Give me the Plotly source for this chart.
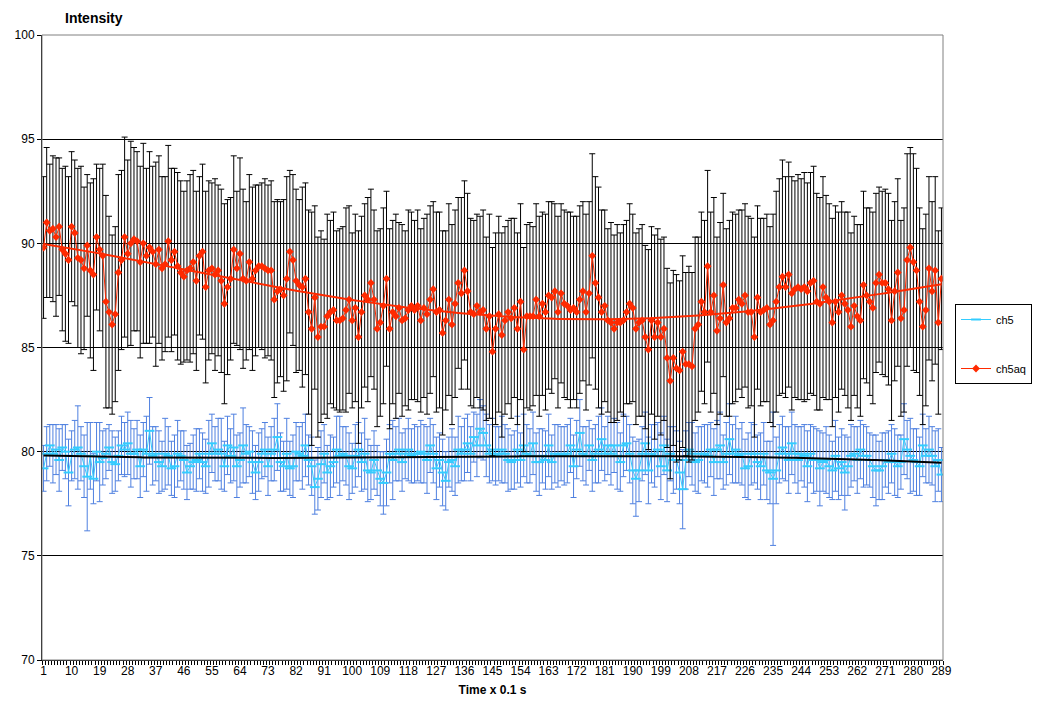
import numpy as np
import plotly.graph_objects as go

# ---------------- data ----------------
time_idx = list(range(1, 290))
tick_labels = [str(v) for v in range(1, 290, 9)]

ch5aq_seg = [
    [89.8, 91.0, 90.6, 90.7, 90.3, 90.8, 89.7, 89.5, 89.2, 90.8, 90.5, 89.3, 89.2, 88.8, 89.9, 88.7, 88.5, 90.3, 89.7, 89.4, 87.2, 86.7, 86.1, 86.6],
    [88.6, 89.2, 90.3, 89.5, 90.0, 90.2, 90.1, 89.1, 90.0, 89.4, 89.8, 89.6, 89.0, 89.7, 88.8, 89.0, 90.1, 89.2, 89.6, 88.9, 88.6, 88.4, 88.7, 88.8],
    [89.1, 88.2, 89.4, 89.6, 87.9, 88.7, 88.8, 88.5, 88.7, 88.2, 87.1, 87.9, 88.3, 89.7, 88.8, 89.5, 88.3, 88.2, 89.1, 88.3, 88.7, 88.9, 88.9, 88.8],
    [88.7, 88.7, 87.3, 87.7, 87.8, 87.5, 88.3, 89.6, 89.2, 88.2, 88.0, 87.9, 88.3, 86.7, 85.9, 87.4, 85.5, 86.0, 86.0, 86.5, 86.7, 86.8, 86.3, 86.3],
    [86.4, 86.8, 87.3, 86.3, 86.9, 85.5, 86.7, 87.5, 87.3, 88.1, 87.3, 85.9, 86.2, 87.0, 88.3, 85.9, 86.7, 86.5, 86.9, 86.3, 86.4, 86.8, 87.0, 86.8],
    [87.0, 86.3, 86.9, 86.6, 87.3, 87.8, 86.7, 86.8, 85.7, 86.3, 87.3, 86.1, 87.1, 88.1, 87.6, 88.7, 87.7, 86.7, 86.6, 87.0, 86.7, 86.8, 85.9, 86.5],
    [84.8, 85.9, 86.6, 85.6, 86.3, 86.7, 86.4, 86.9, 85.9, 87.2, 84.9, 86.5, 86.5, 86.5, 87.3, 86.5, 87.1, 86.7, 87.5, 87.4, 87.7, 86.7, 87.6, 87.1],
    [87.0, 86.8, 86.9, 86.7, 87.3, 87.7, 86.7, 87.6, 89.4, 88.1, 87.4, 86.7, 87.0, 86.3, 86.2, 85.9, 86.2, 86.2, 86.3, 86.7, 87.1, 86.9, 85.9, 86.2],
    [86.3, 85.5, 84.9, 86.3, 85.5, 86.2, 85.5, 85.9, 84.5, 83.4, 84.5, 84.0, 83.9, 84.8, 84.2, 84.2, 84.1, 85.9, 86.1, 87.2, 86.7, 88.9, 86.7, 87.5],
    [85.8, 86.4, 88.0, 86.2, 86.4, 86.9, 86.9, 87.3, 87.1, 87.5, 86.7, 86.7, 85.5, 87.4, 86.7, 86.8, 86.9, 86.1, 86.3, 87.2, 87.9, 88.4, 87.9, 88.5],
    [87.6, 87.8, 87.9, 87.8, 87.9, 87.7, 88.1, 88.2, 87.2, 87.1, 87.9, 87.4, 87.2, 86.2, 87.2, 86.7, 87.5, 87.1, 86.8, 86.0, 87.0, 86.5, 86.3, 88.0],
    [87.5, 87.2, 86.9, 88.1, 88.5, 88.1, 88.1, 87.8, 86.3, 87.7, 88.6, 86.4, 86.8, 89.2, 89.8, 89.1, 88.7, 87.2, 86.0, 86.8, 88.8, 87.7, 88.7, 86.2, 88.3],
]
ch5aq_err_seg = [
    [3.4, 3.6, 3.2, 3.5, 3.8, 3.3, 3.9, 4.2, 4.0, 3.6, 3.5, 4.3, 4.5, 3.9, 3.4, 4.2, 4.6, 3.5, 3.9, 4.4, 5.1, 4.6, 4.3, 4.2],
    [4.7, 4.3, 4.8, 4.5, 4.9, 4.4, 4.3, 4.6, 4.8, 4.2, 4.6, 4.1, 4.9, 4.5, 4.4, 4.2, 4.6, 4.4, 4.0, 4.5, 4.4, 4.1, 4.3, 4.5],
    [4.4, 4.3, 3.8, 4.2, 4.6, 4.3, 4.1, 4.6, 4.1, 4.4, 4.8, 4.2, 3.9, 4.5, 3.7, 4.6, 4.3, 3.8, 4.2, 4.4, 4.1, 3.9, 4.0, 4.3],
    [4.1, 4.3, 4.7, 4.4, 4.2, 4.6, 4.9, 3.9, 4.1, 4.4, 4.1, 4.8, 4.6, 4.9, 5.6, 4.4, 4.8, 4.6, 4.2, 4.9, 4.4, 4.7, 4.3, 4.4],
    [4.4, 4.9, 4.5, 4.2, 4.5, 5.1, 4.6, 4.4, 4.9, 4.5, 4.3, 4.7, 4.5, 4.7, 4.2, 4.8, 4.4, 4.9, 4.1, 4.6, 4.2, 4.8, 4.5, 4.3],
    [4.6, 4.4, 4.3, 4.8, 4.5, 4.2, 4.8, 4.7, 4.9, 4.3, 4.6, 4.8, 4.5, 4.1, 4.6, 4.3, 4.7, 4.5, 4.5, 4.4, 4.6, 4.8, 4.4, 4.9],
    [5.0, 4.6, 4.7, 4.9, 4.5, 4.4, 4.8, 4.3, 4.6, 4.7, 4.9, 4.4, 4.5, 4.3, 4.6, 4.8, 4.4, 4.7, 4.5, 4.6, 4.2, 4.6, 4.3, 4.5],
    [4.5, 4.7, 4.4, 4.6, 4.5, 4.3, 4.7, 4.4, 4.9, 5.1, 5.3, 4.9, 4.6, 4.4, 4.8, 4.5, 4.7, 4.3, 4.6, 4.4, 4.8, 4.5, 4.6, 4.5],
    [4.6, 4.4, 4.8, 4.5, 4.9, 4.5, 4.7, 4.4, 4.3, 4.7, 4.2, 4.5, 4.3, 4.6, 4.4, 4.7, 4.5, 4.4, 4.2, 4.3, 4.4, 4.6, 4.8, 4.7],
    [4.5, 4.6, 4.4, 4.5, 4.7, 4.6, 4.5, 4.3, 4.5, 4.4, 4.6, 4.5, 4.8, 4.4, 4.5, 4.4, 4.5, 4.7, 5.1, 5.3, 5.2, 5.6, 5.3, 5.4],
    [5.6, 5.2, 5.4, 5.3, 5.5, 5.2, 5.3, 5.5, 5.2, 5.1, 5.3, 4.9, 4.7, 5.0, 4.6, 4.8, 4.5, 4.4, 4.7, 4.5, 4.3, 4.4, 4.6, 4.5],
    [4.2, 4.5, 4.6, 4.3, 4.2, 4.4, 4.5, 4.6, 4.8, 4.3, 4.5, 4.7, 4.9, 5.1, 4.8, 5.2, 4.9, 4.5, 4.7, 4.6, 4.4, 4.3, 4.5, 4.4, 3.4],
]
ch5_seg = [
    [79.2, 79.9, 80.3, 79.9, 80.1, 79.6, 80.2, 80.0, 79.0, 79.8, 80.1, 80.2, 79.9, 79.3, 78.8, 79.8, 78.7, 80.0, 79.5, 79.7, 79.9, 80.2, 79.5, 79.4],
    [79.8, 80.3, 80.1, 80.4, 79.9, 79.9, 80.1, 79.3, 80.1, 79.9, 81.0, 79.8, 79.9, 79.5, 79.3, 79.9, 79.8, 79.2, 79.3, 79.9, 79.8, 79.6, 79.0, 79.3],
    [79.5, 79.6, 79.9, 79.5, 79.3, 79.9, 80.4, 79.9, 80.1, 79.9, 79.3, 80.3, 79.8, 80.2, 79.3, 79.6, 80.3, 79.9, 80.0, 79.5, 79.0, 79.5, 79.9, 80.1],
    [79.3, 79.9, 80.1, 80.7, 79.5, 79.3, 79.9, 79.2, 79.3, 80.0, 79.9, 79.8, 80.3, 79.6, 79.3, 78.3, 78.7, 79.4, 79.9, 79.0, 79.3, 79.5, 80.1, 79.8],
    [79.9, 79.8, 79.3, 79.2, 79.8, 80.1, 79.5, 79.9, 79.1, 79.0, 79.6, 79.1, 78.7, 78.5, 79.0, 79.9, 79.6, 79.9, 80.1, 79.5, 79.9, 80.1, 79.8, 79.9],
    [79.9, 80.0, 79.9, 79.6, 80.3, 79.9, 79.2, 79.6, 79.0, 78.6, 79.5, 79.6, 79.3, 80.1, 79.9, 80.1, 80.4, 79.9, 80.7, 80.3, 81.1, 80.9, 80.3, 79.9],
    [80.1, 79.8, 79.9, 80.1, 79.9, 79.6, 79.5, 79.6, 80.1, 79.6, 80.3, 79.9, 79.8, 80.4, 79.5, 79.5, 79.8, 79.6, 80.3, 79.5, 79.9, 79.8, 79.9, 79.8],
    [79.9, 80.3, 79.3, 80.1, 80.9, 79.9, 79.8, 80.3, 79.6, 79.9, 80.1, 80.6, 79.9, 80.3, 79.9, 80.3, 79.8, 79.5, 80.3, 80.4, 79.9, 79.1, 78.7, 79.1],
    [79.9, 80.4, 79.1, 79.9, 79.8, 80.1, 79.3, 80.3, 79.1, 79.9, 79.6, 79.6, 79.0, 78.2, 79.6, 80.1, 79.9, 79.5, 79.6, 79.9, 79.9, 79.8, 80.1, 79.5],
    [80.1, 80.3, 79.5, 79.9, 80.6, 79.9, 80.1, 79.8, 79.9, 79.2, 79.3, 79.9, 79.9, 79.5, 79.3, 79.9, 79.1, 79.0, 78.7, 79.1, 79.9, 80.2, 79.9, 79.6],
    [80.4, 79.9, 79.6, 79.9, 79.8, 79.3, 79.9, 79.6, 79.6, 79.2, 79.5, 79.6, 79.3, 79.1, 79.8, 79.2, 79.5, 79.0, 79.3, 79.8, 79.9, 79.6, 80.1, 79.8],
    [79.8, 79.6, 79.3, 79.1, 79.1, 79.3, 79.6, 79.5, 79.9, 79.5, 79.3, 79.5, 80.6, 80.1, 79.8, 79.6, 79.5, 79.3, 80.3, 79.8, 80.1, 79.8, 79.3, 79.6, 78.9],
]
ch5_err_seg = [
    [1.1, 1.3, 1.0, 1.4, 1.2, 1.5, 1.1, 1.3, 1.6, 1.2, 1.4, 2.0, 1.3, 1.5, 2.6, 1.6, 1.2, 1.4, 1.9, 1.3, 1.2, 1.1, 1.5, 1.3],
    [1.2, 1.4, 1.3, 1.5, 1.6, 1.2, 1.4, 1.5, 1.3, 1.8, 1.6, 1.4, 1.3, 1.5, 1.2, 1.7, 1.4, 1.3, 1.5, 1.6, 1.2, 1.4, 1.3, 1.1],
    [1.3, 1.5, 1.2, 1.4, 1.3, 1.6, 1.4, 1.3, 1.5, 1.7, 1.2, 1.4, 1.3, 1.6, 1.5, 1.3, 1.8, 1.4, 1.2, 1.5, 1.3, 1.4, 1.2, 1.3],
    [1.4, 1.3, 1.5, 1.6, 1.4, 1.2, 1.7, 1.3, 1.5, 1.4, 1.3, 1.6, 1.5, 1.2, 1.4, 1.3, 1.5, 1.6, 1.4, 1.3, 1.5, 1.2, 1.6, 1.9],
    [1.3, 1.4, 1.6, 1.2, 1.5, 1.3, 1.4, 1.7, 1.5, 1.3, 1.4, 1.2, 1.3, 1.5, 1.6, 1.4, 1.9, 1.3, 1.5, 1.4, 1.2, 1.5, 1.3, 1.4],
    [1.3, 1.5, 1.4, 1.6, 1.3, 1.4, 1.5, 1.3, 1.6, 1.4, 1.2, 1.5, 1.4, 1.6, 1.3, 1.5, 1.4, 1.3, 1.2, 1.5, 1.4, 1.3, 1.5, 1.4],
    [1.5, 1.4, 1.3, 1.6, 1.4, 1.5, 1.3, 1.4, 1.6, 1.3, 1.5, 1.4, 1.3, 1.5, 1.4, 1.6, 1.3, 1.4, 1.5, 1.3, 1.4, 1.5, 1.3, 1.4],
    [1.4, 1.3, 1.5, 1.4, 1.6, 1.3, 1.4, 1.2, 1.5, 1.4, 1.6, 1.5, 1.3, 1.4, 1.5, 1.3, 1.6, 1.4, 1.5, 1.3, 1.4, 1.6, 1.8, 1.5],
    [1.3, 1.5, 1.6, 1.4, 1.5, 1.3, 1.6, 1.4, 1.5, 1.3, 1.6, 1.4, 1.5, 1.9, 1.4, 1.3, 1.5, 1.4, 1.6, 1.3, 1.4, 1.5, 1.3, 1.6],
    [1.4, 1.6, 1.3, 1.5, 1.7, 1.4, 1.6, 1.3, 1.5, 1.4, 1.6, 1.5, 1.4, 1.3, 1.6, 1.5, 1.4, 1.5, 3.2, 1.6, 1.4, 1.5, 1.3, 1.6],
    [1.5, 1.4, 1.6, 1.3, 1.5, 1.7, 1.4, 1.6, 1.5, 1.8, 1.4, 1.6, 1.5, 1.4, 1.7, 1.5, 1.6, 1.8, 1.4, 1.5, 1.3, 1.6, 1.4, 1.5],
    [1.4, 1.3, 1.5, 1.7, 1.4, 1.6, 1.3, 1.5, 1.4, 1.6, 1.5, 1.3, 1.7, 1.4, 1.8, 1.5, 1.6, 1.4, 1.5, 1.3, 1.6, 1.4, 1.7, 1.5, 1.3],
]

ch5aq = [v for s in ch5aq_seg for v in s]
ch5aq_err = [v for s in ch5aq_err_seg for v in s]
ch5 = [v for s in ch5_seg for v in s]
ch5_err = [v for s in ch5_err_seg for v in s]
n = min(len(time_idx), len(ch5aq), len(ch5aq_err), len(ch5), len(ch5_err))
x = time_idx[:n]

# polynomial trendlines (as Excel's trendline)
xa = np.array(x, dtype=float)
trend_aq = np.polyval(np.polyfit(xa, np.array(ch5aq[:n]), 4), xa)
trend_5 = np.polyval(np.polyfit(xa, np.array(ch5[:n]), 3), xa)

FONT = "Liberation Sans, Arial, sans-serif"

fig = go.Figure()
fig.add_trace(go.Scatter(
    x=x, y=ch5[:n], name="ch5", mode="lines+markers", legendgroup="a",
    line=dict(color="#33CCFF", width=1),
    marker=dict(symbol="line-ew", size=7, line=dict(color="#33CCFF", width=2)),
    error_y=dict(type="data", array=ch5_err[:n], color="#4F80E0", thickness=1, width=3),
))
fig.add_trace(go.Scatter(
    x=x, y=ch5aq[:n], name="ch5aq", mode="lines+markers", legendgroup="b",
    line=dict(color="#FF2A00", width=1),
    marker=dict(symbol="diamond", size=6, color="#FF2A00"),
    error_y=dict(type="data", array=ch5aq_err[:n], color="#000000", thickness=1, width=3),
))
fig.add_trace(go.Scatter(x=x, y=trend_aq, mode="lines", showlegend=False,
                         line=dict(color="#FF2A00", width=2), hoverinfo="skip"))
fig.add_trace(go.Scatter(x=x, y=trend_5, mode="lines", showlegend=False,
                         line=dict(color="#000000", width=2), hoverinfo="skip"))

fig.update_layout(
    width=1040, height=719,
    margin=dict(l=42, r=97, t=35, b=59, autoexpand=False),
    paper_bgcolor="white", plot_bgcolor="white",
    font=dict(family=FONT, size=12, color="black"),
    title=dict(text="<b>Intensity</b>", x=65/1040, xanchor="left",
               y=1-18/719, yanchor="middle", font=dict(size=14, family=FONT)),
    showlegend=True,
    legend=dict(xref="container", x=955/1040, xanchor="left",
                yref="container", y=1-344/719, yanchor="middle",
                bordercolor="black", borderwidth=1, bgcolor="white",
                font=dict(size=11, family=FONT), tracegroupgap=30,
                traceorder="grouped"),
    shapes=[dict(type="rect", xref="paper", yref="paper", x0=0, x1=1, y0=0, y1=1,
                 line=dict(color="#808080", width=1), layer="above")],
)

fig.update_xaxes(
    range=[0.5, 289.5], tickmode="array",
    tickvals=list(range(1, 290, 9)), ticktext=tick_labels,
    ticks="", showgrid=False, zeroline=False,
    showline=True, linecolor="black", linewidth=1,
    minor=dict(tickmode="linear", tick0=0.5, dtick=1, ticks="outside",
               ticklen=4, tickcolor="black", showgrid=False),
    tickfont=dict(size=12, family=FONT),
    title=dict(text="<b>Time x 0.1 s</b>", font=dict(size=12, family=FONT), standoff=8),
)
fig.update_yaxes(
    range=[70, 100], dtick=5, tick0=70,
    showgrid=True, gridcolor="black", gridwidth=1, zeroline=False,
    showline=True, linecolor="black", linewidth=1,
    ticks="outside", ticklen=4, tickcolor="black",
    tickfont=dict(size=12, family=FONT),
)

fig.write_html("out.html")
